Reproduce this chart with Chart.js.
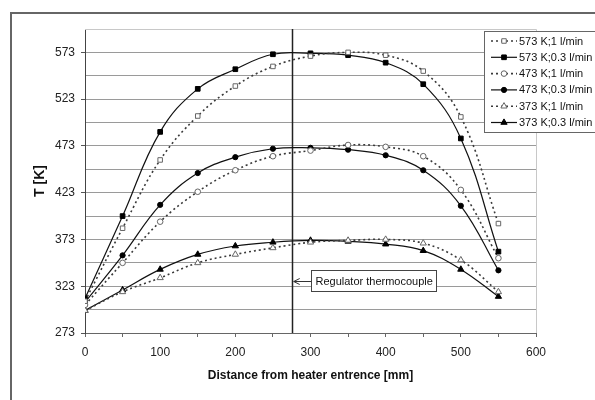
<!DOCTYPE html>
<html>
<head>
<meta charset="utf-8">
<title>Temperature profile</title>
<script src="https://cdn.jsdelivr.net/npm/chart.js@4/dist/chart.umd.min.js"></script>
<style>
  body { margin: 0; background: #fff; }
  canvas { display: block; }
</style>
</head>
<body>
<canvas id="tempChart" width="595" height="400"></canvas>
<script>
// distance from heater entrance [mm]
const distance = [0, 50, 100, 150, 200, 250, 300, 350, 400, 450, 500, 550];

// temperatures [K]
const t573Flow1  = [307, 385, 458, 505, 537, 558, 569, 573, 570, 553, 504, 390];
const t573Flow03 = [310, 398, 488, 534, 555, 571, 572, 570, 562, 539, 481, 360];
const t473Flow1  = [303, 348, 392, 424, 447, 462, 468, 474, 472, 462, 426, 353];
const t473Flow03 = [306, 356, 410, 444, 461, 470, 471, 469, 463, 447, 409, 340];
const t373Flow1  = [297, 317, 332, 348, 357, 364, 370, 372, 373, 369, 351, 317];
const t373Flow03 = [297, 319, 341, 357, 366, 370, 372, 371, 368, 361, 341, 312];

const seriesLabels = ['573 K;1 l/min', '573 K;0.3 l/min', '473 K;1 l/min', '473 K;0.3 l/min', '373 K;1 l/min', '373 K;0.3 l/min'];

// axis ticks
const xTicks = [0, 100, 200, 300, 400, 500, 600];
const xMinorTicks = [0, 50, 100, 150, 200, 250, 300, 350, 400, 450, 500, 550, 600];
const yTicks = [273, 323, 373, 423, 473, 523, 573];
const yGridLines = [273, 298, 323, 348, 373, 398, 423, 448, 473, 498, 523, 548, 573, 598];

const regulatorPos = 275;
const regulatorText = 'Regulator thermocouple';

const FONT = '"Liberation Sans", Arial, sans-serif';

function toPoints(values) {
    return distance.map((d, i) => ({ x: d, y: values[i] }));
}

// dotted gray series with open markers, solid black series with filled markers
function openSeries(label, values, style, radius) {
    return {
        label: label,
        data: toPoints(values),
        borderColor: '#3a3a3a',
        borderWidth: 1.6,
        borderDash: [2, 3],
        pointStyle: style,
        pointRadius: radius,
        pointBackgroundColor: '#fff',
        pointBorderColor: '#666',
        pointBorderWidth: 1,
        tension: 0.4
    };
}
function solidSeries(label, values, style, radius) {
    return {
        label: label,
        data: toPoints(values),
        borderColor: '#111',
        borderWidth: 1.2,
        pointStyle: style,
        pointRadius: radius,
        pointBackgroundColor: '#000',
        pointBorderColor: '#000',
        pointBorderWidth: 1,
        tension: 0.4
    };
}

// frame, plot borders, regulator line and note
const decorPlugin = {
    id: 'decor',
    beforeDraw(chart) {
        const ctx = chart.ctx;
        ctx.save();
        ctx.fillStyle = '#fff';
        ctx.fillRect(0, 0, chart.width, chart.height);
        ctx.restore();
    },
    beforeDatasetsDraw(chart) {
        const { ctx, chartArea, scales } = chart;
        ctx.save();
        // light border on top and right of the plot area
        ctx.strokeStyle = '#c8c8c8';
        ctx.lineWidth = 1;
        ctx.beginPath();
        ctx.moveTo(chartArea.left, chartArea.top + 0.5);
        ctx.lineTo(chartArea.right + 0.5, chartArea.top + 0.5);
        ctx.lineTo(chartArea.right + 0.5, chartArea.bottom);
        ctx.stroke();
        // regulator thermocouple position
        const rx = Math.round(scales.x.getPixelForValue(regulatorPos)) + 0.5;
        ctx.strokeStyle = '#222';
        ctx.lineWidth = 1.5;
        ctx.beginPath();
        ctx.moveTo(rx, chartArea.top);
        ctx.lineTo(rx, chartArea.bottom);
        ctx.stroke();
        ctx.restore();
    },
    afterDraw(chart) {
        const { ctx, scales } = chart;
        ctx.save();
        // outer frame (only top and left visible)
        ctx.strokeStyle = '#666';
        ctx.lineWidth = 2;
        ctx.beginPath();
        ctx.moveTo(11, chart.height + 2);
        ctx.lineTo(11, 13);
        ctx.lineTo(chart.width + 2, 13);
        ctx.stroke();

        // note box with arrow
        const rx = scales.x.getPixelForValue(regulatorPos);
        const boxL = 311.5, boxT = 270.5, boxW = 125, boxH = 21;
        ctx.fillStyle = '#fff';
        ctx.fillRect(boxL, boxT, boxW, boxH);
        ctx.strokeStyle = '#444';
        ctx.lineWidth = 1;
        ctx.strokeRect(boxL, boxT, boxW, boxH);
        ctx.fillStyle = '#111';
        ctx.font = '11px ' + FONT;
        ctx.textBaseline = 'middle';
        ctx.textAlign = 'left';
        ctx.fillText(regulatorText, boxL + 4, boxT + boxH / 2 + 0.5);
        const ay = 281.5;
        ctx.strokeStyle = '#333';
        ctx.beginPath();
        ctx.moveTo(boxL, ay);
        ctx.lineTo(rx + 2, ay);
        ctx.moveTo(rx + 8, ay - 3);
        ctx.lineTo(rx + 2, ay);
        ctx.lineTo(rx + 8, ay + 3);
        ctx.stroke();

        // legend
        const lgL = 484.5, lgT = 31.5;
        ctx.fillStyle = '#fff';
        ctx.fillRect(lgL, lgT, 120, 101);
        ctx.strokeStyle = '#666';
        ctx.strokeRect(lgL, lgT, 120, 101);
        chart.data.datasets.forEach((ds, i) => {
            const y = 41 + i * 16.3;
            ctx.strokeStyle = ds.borderColor;
            ctx.lineWidth = ds.borderWidth;
            ctx.setLineDash(ds.borderDash || []);
            ctx.beginPath();
            ctx.moveTo(491, y);
            ctx.lineTo(517, y);
            ctx.stroke();
            ctx.setLineDash([]);
            ctx.fillStyle = ds.pointBackgroundColor;
            ctx.strokeStyle = ds.pointBorderColor;
            ctx.lineWidth = ds.pointBorderWidth;
            Chart.helpers.drawPoint(ctx, { pointStyle: ds.pointStyle, radius: ds.pointRadius, rotation: 0, borderWidth: 1 }, 504, y);
            ctx.fillStyle = '#111';
            ctx.font = '11px ' + FONT;
            ctx.textBaseline = 'middle';
            ctx.fillText(ds.label, 519, y + 0.5);
        });
        ctx.restore();
    }
};

const ctxTemp = document.getElementById('tempChart').getContext('2d');
const tempChart = new Chart(ctxTemp, {
    type: 'line',
    data: {
        datasets: [
            openSeries(seriesLabels[0], t573Flow1, 'rect', 3.2),
            solidSeries(seriesLabels[1], t573Flow03, 'rect', 3.3),
            openSeries(seriesLabels[2], t473Flow1, 'circle', 2.8),
            solidSeries(seriesLabels[3], t473Flow03, 'circle', 2.6),
            openSeries(seriesLabels[4], t373Flow1, 'triangle', 3.6),
            solidSeries(seriesLabels[5], t373Flow03, 'triangle', 3.6)
        ]
    },
    options: {
        responsive: false,
        animation: false,
        layout: { padding: { left: 0, right: 59, top: 29, bottom: 0 } },
        plugins: {
            legend: { display: false },
            tooltip: { enabled: false }
        },
        scales: {
            x: {
                type: 'linear',
                min: 0,
                max: 600,
                afterBuildTicks: s => { s.ticks = xMinorTicks.map(v => ({ value: v })); },
                afterFit: s => { s.height = 67; },
                ticks: {
                    autoSkip: false,
                    maxRotation: 0,
                    padding: 8,
                    color: '#222',
                    font: { family: FONT, size: 12 },
                    callback: v => xTicks.includes(v) ? v : ''
                },
                grid: { drawOnChartArea: false, tickLength: 4, color: '#666' },
                border: { color: '#666', width: 1 },
                title: {
                    display: true,
                    text: 'Distance from heater entrence [mm]',
                    color: '#111',
                    font: { family: FONT, size: 12, weight: 'bold', lineHeight: 1.2 },
                    padding: { top: 0, bottom: 17 }
                }
            },
            y: {
                type: 'linear',
                min: 273,
                max: 598,
                afterBuildTicks: s => { s.ticks = yGridLines.map(v => ({ value: v })); },
                afterFit: s => { s.width = 85; },
                ticks: {
                    autoSkip: false,
                    padding: 6,
                    color: '#222',
                    font: { family: FONT, size: 12 },
                    callback: v => yTicks.includes(v) ? v : ''
                },
                grid: {
                    color: c => (c.tick && c.tick.value === 598) ? '#d8d8d8' : '#9a9a9a',
                    tickColor: c => (c.tick && yTicks.includes(c.tick.value)) ? '#555' : 'rgba(0,0,0,0)',
                    tickLength: 4,
                    lineWidth: 1
                },
                border: { color: '#444', width: 1 },
                title: {
                    display: true,
                    text: 'T [K]',
                    color: '#111',
                    font: { family: FONT, size: 14, weight: 'bold', lineHeight: 1.2 },
                    padding: { top: 32, bottom: 0 }
                }
            }
        }
    },
    plugins: [decorPlugin]
});
</script>
</body>
</html>
